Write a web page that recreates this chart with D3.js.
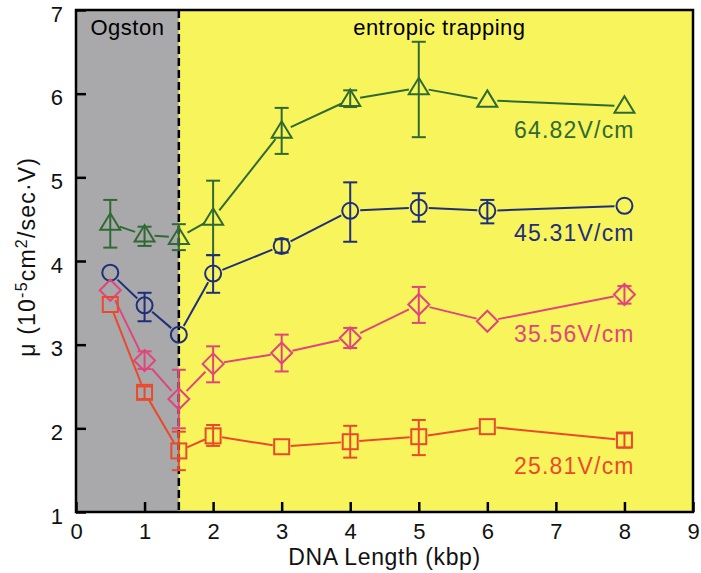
<!DOCTYPE html>
<html>
<head>
<meta charset="utf-8">
<script src="https://cdn.jsdelivr.net/npm/d3@7"></script>
<style>
  html, body { margin: 0; padding: 0; background: #fff; }
  text { font-family: "Liberation Sans", Arial, Helvetica, sans-serif; }
</style>
</head>
<body>
<script>
// DNA length (kbp) for every series
const lengths = [0.5, 1, 1.5, 2, 3, 4, 5, 6, 8];

// mobility (10^-5 cm^2/sec.V), error bar low / high (null = no bar)
const mu64 = [4.45, 4.31, 4.28, 4.51, 5.55, 5.93, 6.07, 5.92, 5.85];
const lo64 = [4.16, 4.18, 4.13, 4.07, 5.28, 5.84, 5.48, null, null];
const hi64 = [4.73, 4.41, 4.44, 4.96, 5.83, 6.04, 6.62, null, null];

const mu45 = [3.86, 3.47, 3.12, 3.85, 4.18, 4.60, 4.64, 4.60, 4.66];
const lo45 = [null, 3.28, null, 3.62, 4.10, 4.23, 4.47, 4.45, null];
const hi45 = [null, 3.62, null, 4.07, 4.26, 4.94, 4.81, 4.73, null];

const mu35 = [3.65, 2.81, 2.35, 2.77, 2.90, 3.08, 3.48, 3.28, 3.60];
const lo35 = [null, 2.71, 2.00, 2.55, 2.68, 2.96, 3.26, null, 3.49];
const hi35 = [null, 2.92, 2.70, 2.98, 3.12, 3.20, 3.69, null, 3.70];

const mu25 = [3.48, 2.43, 1.73, 1.91, 1.78, 1.84, 1.90, 2.02, 1.86];
const lo25 = [null, 2.35, 1.50, 1.79, null, 1.65, 1.68, null, 1.77];
const hi25 = [null, 2.50, 1.96, 2.04, null, 2.03, 2.10, null, 1.94];

const seriesNames = ["64.82V/cm", "45.31V/cm", "35.56V/cm", "25.81V/cm"];
const seriesColors = ["#2f6a34", "#1f2f7c", "#e0457c", "#ea4a2c"];
const seriesShapes = ["triangle", "circle", "diamond", "square"];
// label anchor (x, baseline y) in data units
const labelX = [8.15, 8.15, 8.15, 8.15];
const labelY = [5.47, 4.24, 3.03, 1.45];

const xTicks = [0, 1, 2, 3, 4, 5, 6, 7, 8, 9];
const yTicks = [1, 2, 3, 4, 5, 6, 7];
const ogstonEnd = 1.5;

const W = 701, H = 573;
const margin = { top: 10, right: 8, bottom: 61, left: 76 };
const width = W - margin.left - margin.right;
const height = H - margin.top - margin.bottom;

const svg = d3.select("body").append("svg")
  .attr("width", W).attr("height", H);

const g = svg.append("g")
  .attr("transform", `translate(${margin.left},${margin.top})`);

const x = d3.scaleLinear().domain([0, 9]).range([0, width]);
const y = d3.scaleLinear().domain([1, 7]).range([height, 0]);

// background regions
g.append("rect")
  .attr("x", x(0)).attr("y", 0)
  .attr("width", x(ogstonEnd) - x(0)).attr("height", height)
  .attr("fill", "#a9a9ab");
g.append("rect")
  .attr("x", x(ogstonEnd)).attr("y", 0)
  .attr("width", x(9) - x(ogstonEnd)).attr("height", height)
  .attr("fill", "#f8f55c");

// region titles
g.append("text")
  .attr("x", x(0.75)).attr("y", 25)
  .attr("text-anchor", "middle")
  .attr("font-size", 22).attr("letter-spacing", 0.5)
  .text("Ogston");
g.append("text")
  .attr("x", x(5.3)).attr("y", 25)
  .attr("text-anchor", "middle")
  .attr("font-size", 22).attr("letter-spacing", 0.5)
  .text("entropic trapping");

// dashed divider
g.append("line")
  .attr("x1", x(ogstonEnd)).attr("x2", x(ogstonEnd))
  .attr("y1", 0).attr("y2", height)
  .attr("stroke", "#000").attr("stroke-width", 2.5)
  .attr("stroke-dasharray", "8,4");

const markerR = { triangle: 10, circle: 10, diamond: 11, square: 9 };

const drawMarker = (sel, shape, color) => {
  if (shape === "circle") {
    sel.append("circle").attr("r", 8);
  } else if (shape === "square") {
    sel.append("rect").attr("x", -7.5).attr("y", -7.5).attr("width", 15).attr("height", 15);
  } else if (shape === "diamond") {
    sel.append("path").attr("d", "M0,-10.5L10.5,0L0,10.5L-10.5,0Z");
  } else {
    sel.append("path").attr("d", "M0,-10L10,6.5L-10,6.5Z");
  }
  sel.selectAll("*")
    .attr("fill", "none")
    .attr("stroke", color)
    .attr("stroke-width", 2);
};

const series = [
  { mu: mu64, lo: lo64, hi: hi64 },
  { mu: mu45, lo: lo45, hi: hi45 },
  { mu: mu35, lo: lo35, hi: hi35 },
  { mu: mu25, lo: lo25, hi: hi25 },
];

series.forEach((s, si) => {
  const color = seriesColors[si];
  const shape = seriesShapes[si];
  const r = markerR[shape];
  const pts = lengths.map((d, i) => ({ px: x(d), py: y(s.mu[i]), lo: s.lo[i], hi: s.hi[i] }));
  const sg = g.append("g");

  // connecting segments, trimmed so they stop at the hollow markers
  for (let i = 0; i < pts.length - 1; i++) {
    const a = pts[i], b = pts[i + 1];
    const dx = b.px - a.px, dy = b.py - a.py;
    const len = Math.hypot(dx, dy);
    if (len <= 2 * r) continue;
    const ux = dx / len, uy = dy / len;
    sg.append("line")
      .attr("x1", a.px + ux * r).attr("y1", a.py + uy * r)
      .attr("x2", b.px - ux * r).attr("y2", b.py - uy * r)
      .attr("stroke", color).attr("stroke-width", 2);
  }

  // error bars
  pts.filter((p) => p.lo !== null).forEach((p) => {
    const eb = sg.append("g").attr("stroke", color).attr("stroke-width", 2);
    eb.append("line").attr("x1", p.px).attr("x2", p.px).attr("y1", y(p.lo)).attr("y2", y(p.hi));
    eb.append("line").attr("x1", p.px - 7).attr("x2", p.px + 7).attr("y1", y(p.lo)).attr("y2", y(p.lo));
    eb.append("line").attr("x1", p.px - 7).attr("x2", p.px + 7).attr("y1", y(p.hi)).attr("y2", y(p.hi));
  });

  // markers
  pts.forEach((p) => {
    const m = sg.append("g").attr("transform", `translate(${p.px},${p.py})`);
    drawMarker(m, shape, color);
  });

  // field strength label
  g.append("text")
    .attr("x", x(labelX[si])).attr("y", y(labelY[si]))
    .attr("text-anchor", "end")
    .attr("font-size", 23).attr("letter-spacing", 1.2)
    .attr("fill", color)
    .text(seriesNames[si]);
});

// axes with inward ticks
const xAxis = g.append("g")
  .attr("transform", `translate(0,${height})`)
  .call(d3.axisBottom(x).tickValues(xTicks).tickSize(-10).tickPadding(11).tickFormat(d3.format("d")));
const yAxis = g.append("g")
  .call(d3.axisLeft(y).tickValues(yTicks).tickSize(-10).tickPadding(13).tickFormat(d3.format("d")));

[xAxis, yAxis].forEach((ax) => {
  ax.select(".domain").remove();
  ax.selectAll(".tick line").attr("stroke", "#000").attr("stroke-width", 2.5);
  ax.selectAll(".tick text")
    .attr("font-size", 22)
    .attr("font-family", "\"Liberation Sans\", Arial, Helvetica, sans-serif")
    .attr("fill", "#111");
});
yAxis.selectAll(".tick text").attr("dy", "0.5em");

// frame
g.append("rect")
  .attr("x", 0).attr("y", 0)
  .attr("width", width).attr("height", height)
  .attr("fill", "none")
  .attr("stroke", "#000").attr("stroke-width", 2.5);

// axis titles
g.append("text")
  .attr("x", x(4.5)).attr("y", height + 53)
  .attr("text-anchor", "middle")
  .attr("font-size", 23).attr("letter-spacing", 0.6)
  .attr("fill", "#111")
  .text("DNA Length (kbp)");

const yTitle = svg.append("text")
  .attr("transform", `translate(35,${margin.top + y(4.05)}) rotate(-90)`)
  .attr("text-anchor", "middle")
  .attr("font-size", 23).attr("letter-spacing", 1.2)
  .attr("fill", "#111");
yTitle.append("tspan").text("\u03bc (10");
yTitle.append("tspan").attr("baseline-shift", "super").attr("font-size", 16).text("-5");
yTitle.append("tspan").text("cm");
yTitle.append("tspan").attr("baseline-shift", "super").attr("font-size", 16).text("2");
yTitle.append("tspan").text("/sec\u00b7V)");
</script>
</body>
</html>
